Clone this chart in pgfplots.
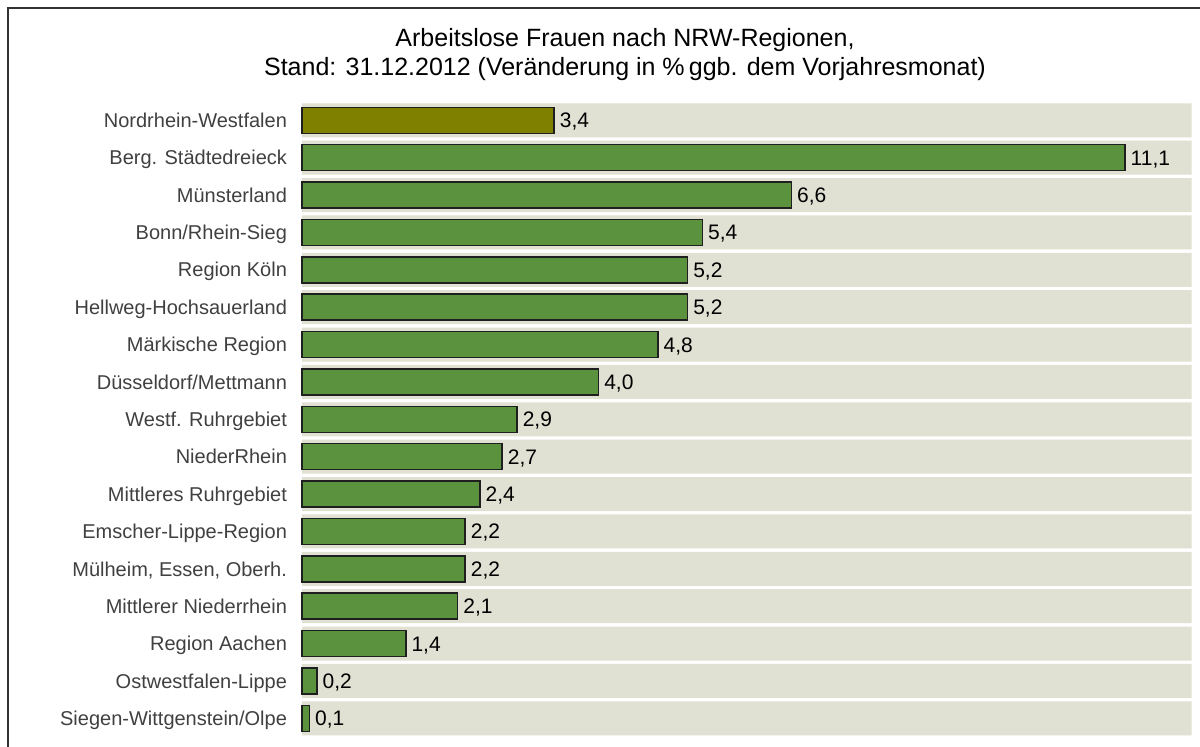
\documentclass[border=0pt]{standalone}
\usepackage{pgfplots}
\pgfplotsset{compat=1.18}
\usepackage{fontspec}
\setmainfont{Liberation Sans}
\definecolor{band}{RGB}{224,225,211}
\definecolor{bargreen}{RGB}{91,146,62}
\definecolor{barolive}{RGB}{128,128,0}
\begin{document}
\begin{tikzpicture}
\useasboundingbox (0,0) rectangle (600pt,-373.5pt);
\draw[line width=1pt, color=black!80] (4pt,-420pt) |- (640pt,-4pt);
\node[align=center, font=\fontsize{12.5}{14.5}\selectfont, text=black] at (312.5pt,-27.5pt)
  {Arbeitslose Frauen nach NRW-Regionen,\\Stand: 31.12.2012 (Veränderung in \%\,ggb. dem Vorjahresmonat)};
\begin{axis}[
  at={(151pt,-50.8pt)}, anchor=north west,
  scale only axis, width=444.85pt, height=317.7pt,
  xbar, bar shift=0pt,
  xmin=0, xmax=12, ymin=-0.5, ymax=16.5, y dir=reverse,
  axis line style={draw=none}, major tick length=0pt,
  xtick=\empty,
  ytick={0,...,16},
  yticklabels={Nordrhein-Westfalen, Berg. Städtedreieck, Münsterland, Bonn/Rhein-Sieg, Region Köln, Hellweg-Hochsauerland, Märkische Region, Düsseldorf/Mettmann, Westf. Ruhrgebiet, NiederRhein, Mittleres Ruhrgebiet, Emscher-Lippe-Region, {Mülheim, Essen, Oberh.}, Mittlerer Niederrhein, Region Aachen, Ostwestfalen-Lippe, Siegen-Wittgenstein/Olpe},
  yticklabel style={font=\fontsize{10}{12}\selectfont, text=black!75, xshift=-4pt, text height=7.2pt, text depth=0pt},
  /pgf/number format/.cd, use comma, fixed, fixed zerofill, precision=1, assume math mode=true, /pgfplots/.cd,
  clip=false,
]
\addplot[fill=band, draw=none, bar width=0.91] coordinates {
(12,0) (12,1) (12,2) (12,3) (12,4) (12,5) (12,6) (12,7) (12,8) (12,9) (12,10) (12,11) (12,12) (12,13) (12,14) (12,15) (12,16)};
\addplot[fill=barolive, draw=black!88, line width=0.75pt, bar width=0.696,
  nodes near coords, every node near coord/.append style={anchor=west, font=\fontsize{10.5}{12}\selectfont, text=black, inner sep=2.5pt, text height=7.5pt, text depth=0pt}]
  coordinates {(3.4,0)};
\addplot[fill=bargreen, draw=black!88, line width=0.75pt, bar width=0.696,
  nodes near coords, every node near coord/.append style={anchor=west, font=\fontsize{10.5}{12}\selectfont, text=black, inner sep=2.5pt, text height=7.5pt, text depth=0pt}]
  coordinates {(11.1,1) (6.6,2) (5.4,3) (5.2,4) (5.2,5) (4.8,6) (4.0,7) (2.9,8) (2.7,9) (2.4,10) (2.2,11) (2.2,12) (2.1,13) (1.4,14) (0.2,15) (0.1,16)};
\end{axis}
\end{tikzpicture}
\end{document}
